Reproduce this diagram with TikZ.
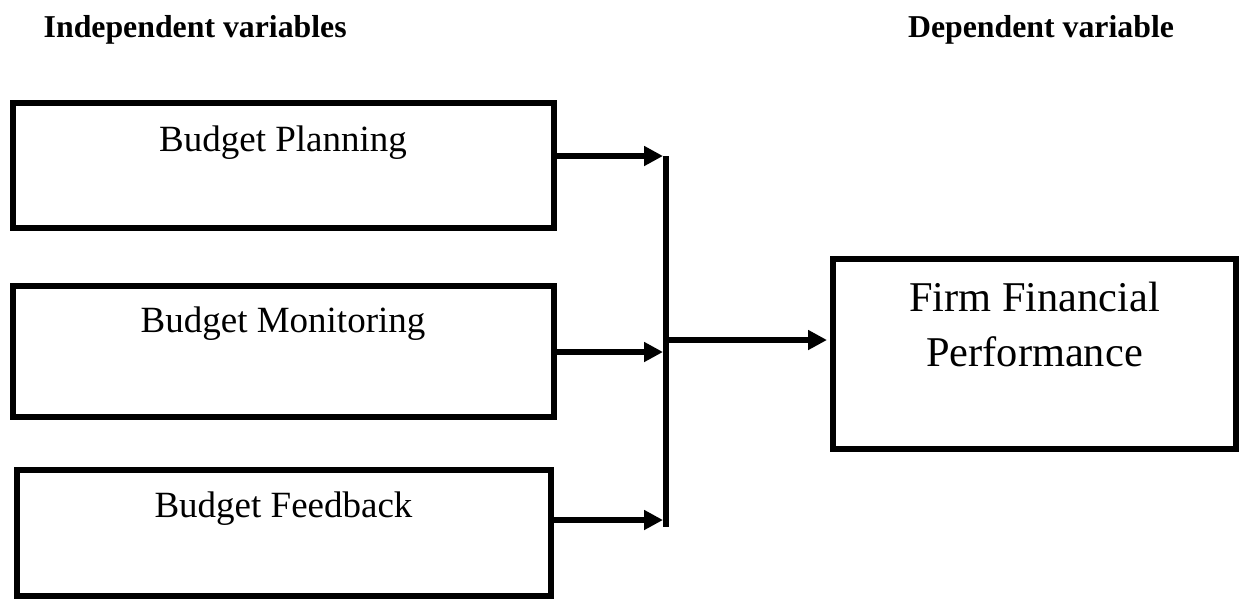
\documentclass[tikz,border=0pt]{standalone}
\usepackage{fontspec}
\setmainfont{Liberation Serif}
\usetikzlibrary{arrows.meta}
\tikzset{
  box/.style={draw=black, line width=6pt, rectangle, inner sep=0pt, fill=white},
  txt/.style={inner sep=0pt, anchor=base, font=\fontsize{37}{44}\selectfont},
  big/.style={inner sep=0pt, anchor=base, font=\fontsize{42.4}{54}\selectfont},
  hdr/.style={inner sep=0pt, anchor=base west, font=\fontsize{31.8}{38}\selectfont\bfseries},
  arr/.style={line width=6pt, -{Triangle[length=19pt,width=19pt]}},
  bar/.style={line width=6pt}
}
\begin{document}
\begin{tikzpicture}[x=1pt,y=-1pt]
\useasboundingbox[fill=white] (0,0) rectangle (1240,598);
% headers
\node[hdr] (hi) at (43.5,37.7) {Independent variables};
\node[hdr] (hd) at (907.9,37.7) {Dependent variable};
% boxes
\node[box, minimum width=541.3pt, minimum height=125.5pt] (b1) at (283.35,165.25) {};
\node[box, minimum width=541.3pt, minimum height=131pt] (b2) at (283.35,351.5) {};
\node[box, minimum width=534pt, minimum height=126pt] (b3) at (284,532.5) {};
\node[box, minimum width=403pt, minimum height=190pt] (b4) at (1034.5,354) {};
% texts
\node[txt] (l1) at (283,151) {Budget Planning};
\node[txt] (l2) at (283,332.7) {Budget Monitoring};
\node[txt] (l3) at (283.5,517.3) {Budget Feedback};
\node[big] (f1) at (1034.5,311.7) {Firm Financial};
\node[big] (f2) at (1034.5,366) {Performance};
% junction bar
\coordinate (jt) at (666,156);
\coordinate (jb) at (666,527);
\draw[bar] (jt) -- (jb);
\coordinate (t1) at (663,156);
\coordinate (t2) at (663,352);
\coordinate (t3) at (663,520);
\coordinate (m) at (666,340);
\draw[arr] (b1.east |- t1) -- (t1);
\draw[arr] (b2.east |- t2) -- (t2);
\draw[arr] (b3.east |- t3) -- (t3);
\draw[arr] (m) -- ([xshift=-3pt]b4.west |- m);
\end{tikzpicture}
\end{document}
